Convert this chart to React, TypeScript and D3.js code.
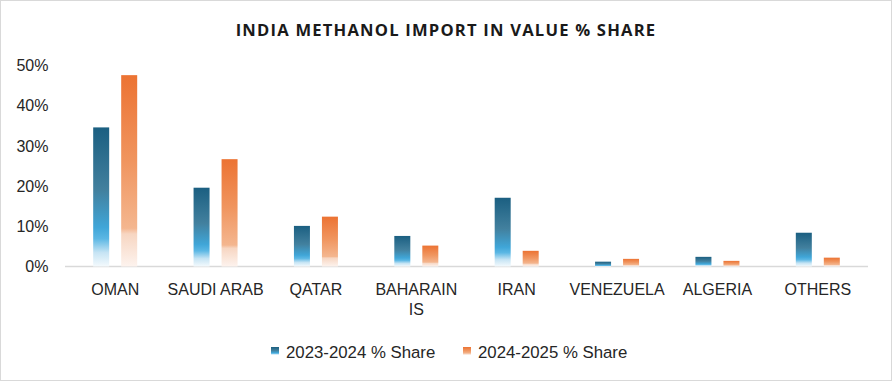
import React from "react";
import * as d3 from "d3";

const categories = ["OMAN", "SAUDI ARAB", "QATAR", "BAHARAIN IS", "IRAN", "VENEZUELA", "ALGERIA", "OTHERS"];
const categoryLines = [["OMAN"], ["SAUDI ARAB"], ["QATAR"], ["BAHARAIN", "IS"], ["IRAN"], ["VENEZUELA"], ["ALGERIA"], ["OTHERS"]];
const share2324 = [34.6, 19.6, 10.1, 7.6, 17.1, 1.2, 2.4, 8.4];
const share2425 = [47.6, 26.7, 12.4, 5.2, 3.9, 1.9, 1.4, 2.2];
const seriesNames = ["2023-2024 % Share", "2024-2025 % Share"];
const yTicks = [0, 10, 20, 30, 40, 50];

const W = 892;
const H = 381;
const M = { left: 65, right: 24, top: 65, bottom: 115 };

export default function App() {
  const x = d3.scaleBand().domain(categories).range([M.left, W - M.right]).paddingInner(0).paddingOuter(0);
  const y = d3.scaleLinear().domain([0, 50]).range([266.5, 65.5]);
  const barW = 16;
  const gap = 12;
  const font = "'Liberation Sans', Arial, sans-serif";
  const series = [share2324, share2425];

  return (
    <svg width={W} height={H} style={{ position: "absolute", left: 0, top: 0, background: "#fff" }}>
      <defs>
        <linearGradient id="gBlue" x1="0" y1="0" x2="0" y2="1">
          <stop offset="0" stopColor="#1b5f81" />
          <stop offset="0.45" stopColor="#42809e" />
          <stop offset="0.72" stopColor="#40a6d8" />
          <stop offset="0.8" stopColor="#5bb7e4" />
          <stop offset="0.9" stopColor="#c6e4f4" />
          <stop offset="1" stopColor="#f4fafd" />
        </linearGradient>
        <linearGradient id="gOrange" x1="0" y1="0" x2="0" y2="1">
          <stop offset="0" stopColor="#ec7333" />
          <stop offset="0.45" stopColor="#f0955f" />
          <stop offset="0.8" stopColor="#f4b68f" />
          <stop offset="0.83" stopColor="#f7d6c2" />
          <stop offset="1" stopColor="#fdf3ee" />
        </linearGradient>
      </defs>
      <rect x={0.5} y={0.5} width={W - 1} height={H - 1} fill="#fff" stroke="#d9d9d9" />
      <text x={W / 2} y={36} textAnchor="middle" fontFamily="'Open Sans', sans-serif" fontWeight={700} fontSize={16.6} letterSpacing={1.2} fill="#1a1a1a">
        INDIA METHANOL IMPORT IN VALUE % SHARE
      </text>
      {yTicks.map((t) => (
        <text key={t} x={48.5} y={y(t)} dy="0.35em" textAnchor="end" fontFamily={font} fontSize={16} fill="#262626">
          {t}%
        </text>
      ))}
      <line x1={M.left} x2={W - M.right} y1={266.5} y2={266.5} stroke="#d9d9d9" strokeWidth={1.5} />
      {categories.map((c, i) => {
        const cx = (x(c) as number) + x.bandwidth() / 2;
        return (
          <g key={c}>
            {series.map((s, j) => {
              const bx = j === 0 ? cx - gap / 2 - barW : cx + gap / 2;
              return (
                <rect
                  key={j}
                  x={bx}
                  y={y(s[i])}
                  width={barW}
                  height={y(0) - y(s[i])}
                  fill={j === 0 ? "url(#gBlue)" : "url(#gOrange)"}
                />
              );
            })}
            {categoryLines[i].map((ln, k) => (
              <text key={k} x={cx} y={294.5 + k * 20} textAnchor="middle" fontFamily={font} fontSize={16} fill="#262626">
                {ln}
              </text>
            ))}
          </g>
        );
      })}
      {seriesNames.map((n, j) => {
        const lx = j === 0 ? 271 : 463;
        return (
          <g key={n}>
            <rect x={lx} y={347} width={8} height={8} fill={j === 0 ? "url(#gBlue)" : "url(#gOrange)"} />
            <text x={lx + 15} y={357.5} fontFamily={font} fontSize={16.8} fill="#262626">
              {n}
            </text>
          </g>
        );
      })}
    </svg>
  );
}
